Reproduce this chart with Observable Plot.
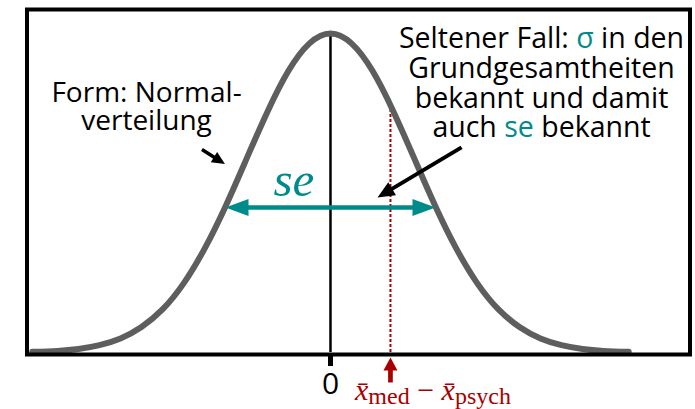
<!DOCTYPE html>
<html><head><meta charset="utf-8">
<script src="https://cdn.jsdelivr.net/npm/d3@7"></script>
<script src="https://cdn.jsdelivr.net/npm/@observablehq/plot@0.6"></script>
<style>body{margin:0;background:#fff}</style>
</head><body><div id="chart"></div>
<script>
// ---- data (x in units of se, y relative to the peak) ----
const zValues = [-3.55,-3.25,-3,-2.75,-2.5,-2.25,-2,-1.75,-1.5,-1.25,-1,-0.75,-0.5,-0.25,0,0.25,0.5,0.75,1,1.25,1.5,1.75,2,2.25,2.5,2.75,3,3.25,3.55];
const densityValues = [0.002,0.005,0.011,0.023,0.044,0.080,0.135,0.216,0.325,0.458,0.607,0.755,0.883,0.969,1,0.969,0.883,0.755,0.607,0.458,0.325,0.216,0.135,0.080,0.044,0.023,0.011,0.005,0.002];
const diffValue = 0.714;      // x̄med − x̄psych
const diffHeight = 0.78;      // curve height at that value
const seReach = 1.25;         // reach of the se arrow
const xTicks = [0];
const leftLines = ["Form: Normal-", "verteilung"];
const rightLines = ["Seltener Fall: σ in den", "Grundgesamtheiten", "bekannt und damit", "auch se bekannt"];
const seLabel = "se";
const diffLabel = "x\u0304med − x\u0304psych";

// ---- layout ----
const W = 695, H = 409;
const margin = {left: 26.5, right: 5.5, top: 9, bottom: 55};
const xOpts = {domain: [-3.613, 4.28], range: [margin.left, W - margin.right]};
const yOpts = {domain: [-0.00627, 1.0752], range: [H - margin.bottom, margin.top]};
const sx = Plot.scale({x: xOpts}), sy = Plot.scale({y: yOpts});
const teal = "#008b8b", red = "#a80000", gray = "#5e5e5e";

const curve = zValues.map((z, i) => ({z, d: densityValues[i]}));
const leftText = leftLines.map((t, i) => ({t, x: -2.19, y: [0.784, 0.699][i]}));
const rightText = rightLines.map((t, i) => ({t, x: 2.512, y: [0.956, 0.859, 0.765, 0.674][i]}));
const seArrow = {x1: -seReach, x2: seReach, y1: 0.4545, y2: 0.4545};
const bigArrow = {x1: 1.56, y1: 0.643, x2: 0.56, y2: 0.486};
const smallArrow = {x1: -1.53, y1: 0.636, x2: -1.256, y2: 0.591};
const redArrow = {x1: diffValue, y1: -0.094, x2: diffValue, y2: -0.0157};

function angle(a, rev) {
  const dx = sx.apply(a.x2) - sx.apply(a.x1), dy = sy.apply(a.y2) - sy.apply(a.y1);
  return Math.atan2(rev ? -dx : dx, rev ? dy : -dy) * 180 / Math.PI;
}
function head(L, w) {
  return {draw(ctx) { ctx.moveTo(0, 0); ctx.lineTo(w / 2, L); ctx.lineTo(-w / 2, L); ctx.closePath(); }};
}
function arrowMarks(a, color, sw, L, w, both) {
  const marks = [
    Plot.arrow([a], {x1: "x1", y1: "y1", x2: "x2", y2: "y2", stroke: color, strokeWidth: sw,
      headLength: 0, insetEnd: L * 0.7, insetStart: both ? L * 0.7 : 0, strokeLinecap: "butt"}),
    Plot.dot([a], {x: "x2", y: "y2", symbol: head(L, w), r: 5, fill: color, stroke: "none", rotate: angle(a)})
  ];
  if (both) marks.push(Plot.dot([a], {x: "x1", y: "y1", symbol: head(L, w), r: 5, fill: color, stroke: "none", rotate: angle(a, true)}));
  return marks;
}

const sans = "Open Sans";
const chart = Plot.plot({
  width: W, height: H,
  marginLeft: margin.left, marginRight: margin.right, marginTop: margin.top, marginBottom: margin.bottom,
  x: xOpts, y: yOpts,
  style: {fontFamily: sans, background: "white", color: "black"},
  marks: [
    Plot.ruleX([diffValue], {y1: 0, y2: diffHeight, stroke: red, strokeWidth: 2, strokeDasharray: "3,2"}),
    Plot.ruleX(xTicks, {y1: 0, y2: 1, stroke: "black", strokeWidth: 2.5}),
    Plot.line(curve, {x: "z", y: "d", curve: "natural", stroke: gray, strokeWidth: 6, strokeLinecap: "round"}),
    Plot.frame({stroke: "black", strokeWidth: 4}),
    Plot.axisX({ticks: xTicks, tickSize: 12, strokeWidth: 5, fontSize: 30, tickPadding: 6, tickFormat: d => String(d), label: null}),
    Plot.axisY({ticks: [], label: null}),
    ...arrowMarks(seArrow, teal, 4.5, 23, 17, true),
    ...arrowMarks(bigArrow, "black", 4, 17, 15, false),
    ...arrowMarks(smallArrow, "black", 3.5, 13, 12, false),
    ...arrowMarks(redArrow, red, 4.7, 13, 14, false),
    Plot.text(leftText, {x: "x", y: "y", text: "t", fontSize: 28, lineAnchor: "bottom", textAnchor: "middle", fill: "black"}),
    Plot.text(rightText, {x: "x", y: "y", text: "t", fontSize: 28.5, lineAnchor: "bottom", textAnchor: "middle", fill: "black", className: "mixed"}),
    Plot.text([seLabel], {x: -0.435, y: 0.492, text: d => d, fontSize: 49, fontFamily: "Liberation Serif", fontStyle: "italic", lineAnchor: "bottom", textAnchor: "middle", fill: teal}),
    Plot.text([diffLabel], {x: 1.22, y: -0.15, text: d => d, fontSize: 30, fontFamily: "Liberation Serif", lineAnchor: "bottom", textAnchor: "middle", fill: red, className: "mathlabel"})
  ]
});
document.getElementById("chart").append(chart);

// colour the teal words inside the right-hand text
const NS = "http://www.w3.org/2000/svg";
chart.querySelectorAll("g.mixed text").forEach(el => {
  const s = el.textContent;
  el.textContent = "";
  s.split(/(σ|\bse\b)/).forEach(part => {
    if (!part) return;
    const ts = document.createElementNS(NS, "tspan");
    ts.textContent = part;
    if (part === "σ" || part === "se") ts.setAttribute("fill", teal);
    el.appendChild(ts);
  });
});
// math-style label
chart.querySelectorAll("g.mathlabel text").forEach(el => {
  el.textContent = "";
  const parts = [
    {t: "x\u0304", it: true}, {t: "med", sub: true}, {t: " − "}, {t: "x\u0304", it: true}, {t: "psych", sub: true}
  ];
  let shifted = false;
  parts.forEach(p => {
    const ts = document.createElementNS(NS, "tspan");
    ts.textContent = p.t;
    if (p.it) ts.setAttribute("font-style", "italic");
    if (p.sub) { ts.setAttribute("font-size", "24"); if (!shifted) { ts.setAttribute("dy", "4"); shifted = true; } }
    else if (shifted) { ts.setAttribute("dy", "-4"); shifted = false; }
    el.appendChild(ts);
  });
});
</script>
</body></html>
